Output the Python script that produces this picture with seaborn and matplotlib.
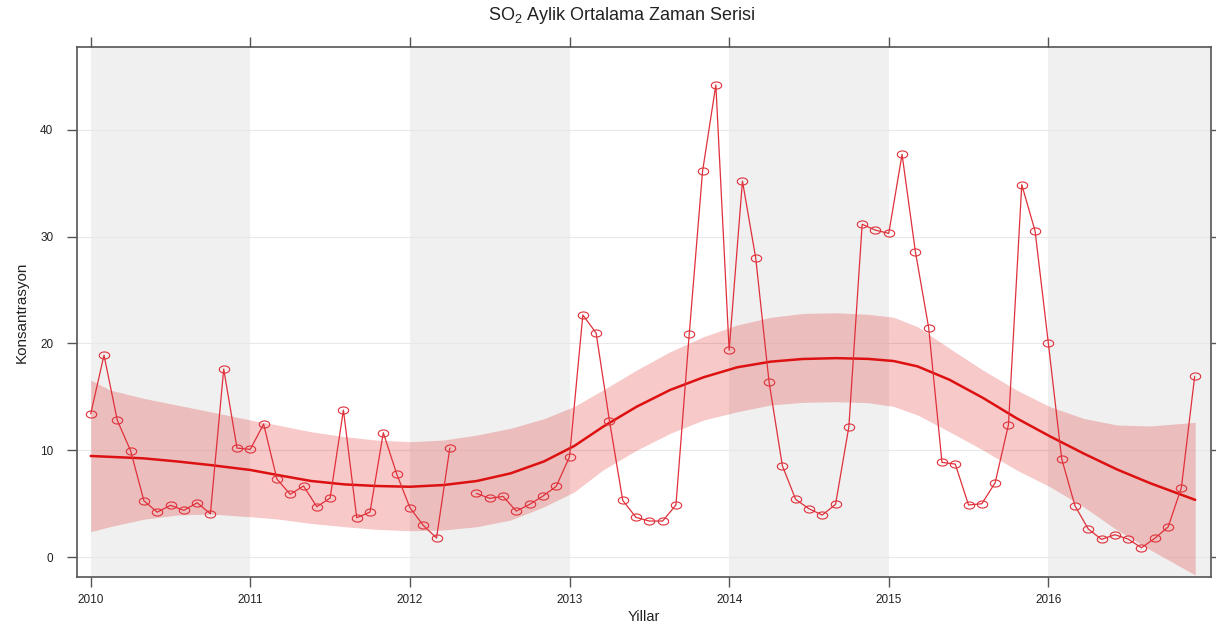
import numpy as np
import pandas as pd
import matplotlib
matplotlib.use("Agg")
import matplotlib.pyplot as plt
from matplotlib.path import Path
import seaborn as sns

# Monthly mean SO2 concentrations, Jan 2010 - Dec 2016 (May 2012 missing)
years = [2010, 2011, 2012, 2013, 2014, 2015, 2016]
so2_2010 = [13.4, 18.9, 12.8, 9.95, 5.27, 4.2, 4.84, 4.37, 5.08, 4.05, 17.6, 10.2]
so2_2011 = [10.08, 12.45, 7.3, 5.87, 6.65, 4.71, 5.52, 13.76, 3.68, 4.21, 11.64, 7.8]
so2_2012 = [4.62, 2.97, 1.78, 10.2, np.nan, 5.96, 5.49, 5.68, 4.3, 4.93, 5.71, 6.62]
so2_2013 = [9.39, 22.66, 20.97, 12.76, 5.3, 3.71, 3.37, 3.37, 4.87, 20.88, 36.1, 44.2]
so2_2014 = [19.35, 35.2, 27.97, 16.4, 8.55, 5.4, 4.52, 3.93, 4.93, 12.2, 31.15, 30.6]
so2_2015 = [30.3, 37.7, 28.6, 21.47, 8.86, 8.7, 4.87, 4.99, 6.96, 12.39, 34.86, 30.52]
so2_2016 = [20.0, 9.2, 4.8, 2.62, 1.65, 2.09, 1.68, 0.87, 1.75, 2.81, 6.49, 16.92]
monthly = [so2_2010, so2_2011, so2_2012, so2_2013, so2_2014, so2_2015, so2_2016]

# Smooth trend with its confidence band
trend_x = [2010.00, 2010.12, 2010.33, 2010.54, 2010.75, 2011.00, 2011.17, 2011.38,
           2011.59, 2011.79, 2012.00, 2012.21, 2012.42, 2012.63, 2012.84, 2013.03,
           2013.21, 2013.42, 2013.63, 2013.84, 2014.05, 2014.26, 2014.46, 2014.67,
           2014.87, 2015.03, 2015.18, 2015.38, 2015.59, 2015.80, 2016.01, 2016.22,
           2016.43, 2016.64, 2016.92]
trend_mid = [9.46, 9.38, 9.24, 8.95, 8.61, 8.15, 7.68, 7.12,
             6.80, 6.65, 6.58, 6.74, 7.12, 7.83, 8.95, 10.40,
             12.20, 14.07, 15.64, 16.83, 17.76, 18.29, 18.54, 18.62,
             18.55, 18.35, 17.85, 16.60, 14.90, 13.00, 11.30, 9.70,
             8.20, 6.90, 5.35]
trend_lo = [2.37, 2.84, 3.53, 3.93, 4.03, 3.77, 3.56, 3.15,
            2.84, 2.59, 2.46, 2.53, 2.84, 3.46, 4.70, 6.10,
            8.15, 10.00, 11.58, 12.83, 13.60, 14.23, 14.48, 14.54,
            14.45, 14.10, 13.30, 11.73, 10.02, 8.15, 6.58, 4.71,
            2.53, 0.66, -1.68]
trend_hi = [16.57, 15.64, 14.86, 14.23, 13.60, 12.83, 12.36, 11.73,
            11.27, 10.95, 10.80, 10.95, 11.42, 12.05, 12.95, 14.10,
            15.64, 17.50, 19.22, 20.63, 21.72, 22.44, 22.80, 22.87,
            22.72, 22.45, 21.56, 19.54, 17.50, 15.64, 14.07, 12.98,
            12.36, 12.27, 12.61]

y_ticks = [0, 10, 20, 30, 40]
shaded_years = [2010, 2012, 2014, 2016]

# Long-format table: decimal-year position, value, and a segment id split at gaps
rows = []
seg = 0
for yr, vals in zip(years, monthly):
    for m, v in enumerate(vals):
        if np.isnan(v):
            seg += 1
            continue
        rows.append({"t": yr + m / 12.0, "so2": v, "seg": seg})
df = pd.DataFrame(rows)
trend = pd.DataFrame({"t": trend_x, "mid": trend_mid, "lo": trend_lo, "hi": trend_hi})

sns.set_theme(style="white")
plt.rcParams["font.family"] = ["Liberation Sans", "DejaVu Sans"]
plt.rcParams["mathtext.fontset"] = "custom"
plt.rcParams["mathtext.rm"] = "Liberation Sans"
plt.rcParams["mathtext.it"] = "Liberation Sans:italic"

fig = plt.figure(figsize=(12.16, 6.28), dpi=100)
ax = fig.add_axes([0.0633, 0.0812, 0.9326, 0.844])

x_lo, x_hi = 2009.914, 2017.019
y_lo, y_hi = -1.87, 47.75

# alternating year shading
for s in shaded_years:
    ax.axvspan(s, min(s + 1, x_hi) if s + 1 < 2017 else x_hi,
               color="#f0f0f0", lw=0, zorder=0)

for yt in y_ticks:
    ax.axhline(yt, color="#e8e8e8", lw=0.8, zorder=0.5)

ax.fill_between(trend["t"], trend["lo"], trend["hi"], color="#dc0000",
                alpha=0.21, lw=0, zorder=1)
sns.lineplot(data=trend, x="t", y="mid", color="#dd1111", lw=1.8, ax=ax,
             zorder=3, legend=False)

# open elliptical markers
theta = np.linspace(0, 2 * np.pi, 41)
ell = Path(np.column_stack([np.cos(theta), 0.68 * np.sin(theta)]))
sns.lineplot(data=df, x="t", y="so2", units="seg", estimator=None,
             color="#e0303a", lw=0.9, marker=ell, markersize=7.5,
             markerfacecolor="none", markeredgecolor="#e0303a",
             markeredgewidth=0.8, ax=ax, zorder=4, legend=False)

ax.set_xlim(x_lo, x_hi)
ax.set_ylim(y_lo, y_hi)
ax.set_xticks(years)
ax.set_xticklabels([str(y) for y in years])
ax.set_yticks(y_ticks)
ax.set_yticklabels([str(v) for v in y_ticks])

for side in ["left", "right", "top", "bottom"]:
    ax.spines[side].set_visible(True)
    ax.spines[side].set_color("#555555")
    ax.spines[side].set_linewidth(1.2)

ax.tick_params(axis="both", which="both", direction="out", length=7,
               width=1.0, color="#555555", labelsize=8.5, labelcolor="#222222",
               top=True, right=True, labeltop=False, labelright=False,
               bottom=True, left=True)
ax.tick_params(axis="y", pad=10)
ax.tick_params(axis="x", pad=5)

ax.set_xlabel("Yillar", fontsize=10.5, color="#222222", labelpad=3)
ax.set_ylabel("Konsantrasyon", fontsize=11, color="#222222", labelpad=8)
fig.text(0.511, 0.975, r"SO$_2$ Aylik Ortalama Zaman Serisi", ha="center",
         va="center", fontsize=13, color="#222222")

fig.savefig("out.png", dpi=100)
